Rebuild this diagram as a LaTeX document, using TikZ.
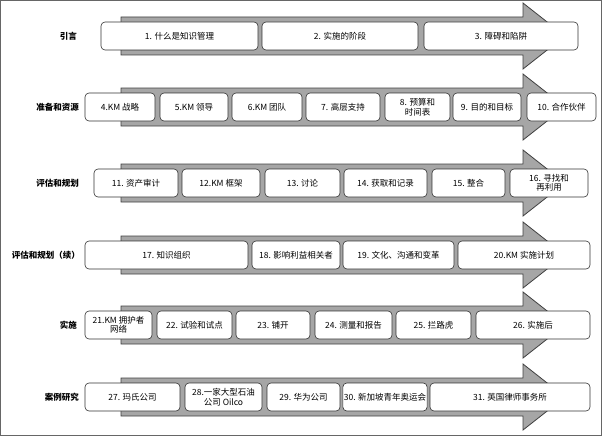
\documentclass[tikz,border=0pt]{standalone}
\usepackage{fontspec}
\newfontfamily\cjk{Noto Sans CJK SC}
\begin{document}
\begin{tikzpicture}[x=1pt,y=-1pt,
 bx/.style={draw=black!80,fill=white,rounded corners=4pt,minimum height=28pt,inner sep=1pt,font=\cjk\fontsize{8.5}{9.5}\selectfont,align=center,line width=0.6pt},
 lab/.style={font=\cjk\bfseries\fontsize{8.5}{10}\selectfont,anchor=east,inner sep=0pt},
 arr/.style={draw=black!75,fill=black!35,line width=0.8pt}]
\useasboundingbox (0,0) rectangle (602,436);
\draw[black!60] (0.5,0.5) rectangle (601.5,435.5);
\foreach \c/\t/\xx [count=\i] in {36/引言/77,107/准备和资源/79,183/评估和规划/79,255/评估和规划（续）/80,325/实施/77,397/案例研究/79}{
 \draw[arr] (121,\c-19) -- (523,\c-19) -- (523,\c-33) -- (565,\c) -- (523,\c+33) -- (523,\c+19) -- (121,\c+19) -- cycle;
 \node[lab] (L\i) at (\xx,\c) {\t};
}
\newcommand\bxx[5]{\node[bx,minimum width=#3pt-#2pt] (#1) at ({(#2+#3)/2},#4) {#5};}
\bxx{b1}{101}{258}{36}{1. 什么是知识管理}
\bxx{b2}{262}{418}{36}{2. 实施的阶段}
\bxx{b3}{424}{578}{36}{3. 障碍和陷阱}
\bxx{b4}{85}{155}{107}{4.KM 战略}
\bxx{b5}{160}{228}{107}{5.KM 领导}
\bxx{b6}{232}{302}{107}{6.KM 团队}
\bxx{b7}{306}{380}{107}{7. 高层支持}
\bxx{b8}{385}{450}{107}{8. 预算和\\时间表}
\bxx{b9}{453}{521}{107}{9. 目的和目标}
\bxx{b10}{527}{596}{107}{10. 合作伙伴}
\bxx{b11}{94}{178}{183}{11. 资产审计}
\bxx{b12}{182}{260}{183}{12.KM 框架}
\bxx{b13}{265}{340}{183}{13. 讨论}
\bxx{b14}{344}{427}{183}{14. 获取和记录}
\bxx{b15}{432}{505}{183}{15. 整合}
\bxx{b16}{510}{588}{183}{16. 寻找和\\再利用}
\bxx{b17}{85}{248}{255}{17. 知识组织}
\bxx{b18}{252}{340}{255}{18. 影响利益相关者}
\bxx{b19}{343}{454}{255}{19. 文化、沟通和变革}
\bxx{b20}{458}{590}{255}{20.KM 实施计划}
\bxx{b21}{85}{152}{325}{21.KM 拥护者\\网络}
\bxx{b22}{157}{232}{325}{22. 试验和试点}
\bxx{b23}{236}{310}{325}{23. 铺开}
\bxx{b24}{315}{392}{325}{24. 测量和报告}
\bxx{b25}{396}{471}{325}{25. 拦路虎}
\bxx{b26}{476}{590}{325}{26. 实施后}
\bxx{b27}{85}{180}{397}{27. 玛氏公司}
\bxx{b28}{185}{262}{397}{28.一家大型石油\\公司 Oilco}
\bxx{b29}{267}{340}{397}{29. 华为公司}
\bxx{b30}{344}{426}{397}{30. 新加坡青年奥运会}
\bxx{b31}{430}{590}{397}{31. 英国律师事务所}
\end{tikzpicture}
\end{document}
